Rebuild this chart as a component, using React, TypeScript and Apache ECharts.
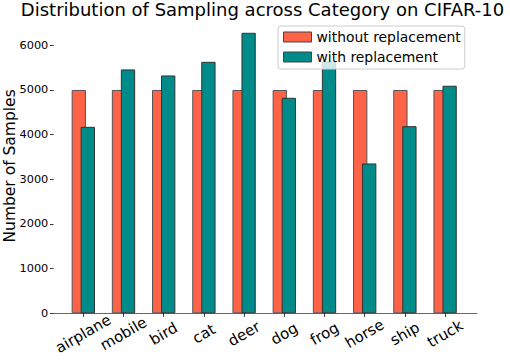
import React, { useEffect, useRef } from "react";
import * as echarts from "echarts";

const categories = ["airplane", "mobile", "bird", "cat", "deer", "dog", "frog", "horse", "ship", "truck"];
const withoutReplacement = [5000, 5000, 5000, 5000, 5000, 5000, 5000, 5000, 5000, 5000];
const withReplacement = [4175, 5460, 5325, 5630, 6280, 4825, 5640, 3355, 4190, 5095];
const yTicks = [0, 1000, 2000, 3000, 4000, 5000, 6000];

const FONT = "DejaVu Sans";

export default function App() {
  const ref = useRef<HTMLDivElement>(null);
  useEffect(() => {
    if (!ref.current) return;
    const chart = echarts.init(ref.current, null, { renderer: "svg" });

    chart.setOption({
      animation: false,
      title: {
        text: "Distribution of Sampling across Category on CIFAR-10",
        left: 262.5,
        textAlign: "center",
        top: 0,
        padding: 0,
        textStyle: { fontFamily: FONT, fontSize: 18, fontWeight: "normal", color: "#000" },
      },
      legend: {
        orient: "vertical",
        left: 278,
        top: 26,
        padding: [4, 4, 5, 5],
        itemWidth: 28,
        itemHeight: 10,
        itemGap: 6,
        itemTextGap: 10,
        icon: "rect",
        backgroundColor: "rgba(255,255,255,0.8)",
        borderColor: "#cccccc",
        borderWidth: 1,
        borderRadius: 3,
        textStyle: { fontFamily: FONT, fontSize: 13.9, color: "#000" },
        itemStyle: { borderColor: "#444", borderWidth: 1 },
        data: ["without replacement", "with replacement"],
      },
      grid: [
        { left: 63.2, right: 44.8, top: 18.5, bottom: 46.7, containLabel: false, outerBoundsMode: "none" },
        { left: 53.5, right: 33, top: 18.5, bottom: 46.7, containLabel: false, outerBoundsMode: "none" },
      ],
      xAxis: [
        {
          type: "category",
          gridIndex: 0,
          data: categories,
          axisLine: { show: false },
          axisTick: { show: true, alignWithLabel: true, length: 3.5, lineStyle: { color: "#333" } },
          axisLabel: {
            rotate: 30,
            align: "center",
            verticalAlign: "middle",
            margin: 20.5,
            interval: 0,
            hideOverlap: false,
            fontFamily: FONT,
            fontSize: 15,
            color: "#000",
          },
          splitLine: { show: false },
        },
        {
          type: "value",
          gridIndex: 1,
          min: 0,
          max: 1,
          axisLine: { show: true, lineStyle: { color: "#666", width: 1 } },
          axisTick: { show: false },
          axisLabel: { show: false },
          splitLine: { show: false },
        },
      ],
      yAxis: [
        {
          type: "value",
          gridIndex: 0,
          min: 0,
          max: 6600,
          offset: 9.7,
          name: "Number of Samples",
          nameLocation: "middle",
          nameGap: 36,
          nameMoveOverlap: false,
          nameTextStyle: { fontFamily: FONT, fontSize: 15.5, color: "#000" },
          axisLine: { show: false },
          axisTick: { show: true, length: 3.5, customValues: yTicks, lineStyle: { color: "#333" } },
          axisLabel: {
            customValues: yTicks,
            formatter: (v: number) => String(v),
            margin: 5.2,
            fontFamily: FONT,
            fontSize: 11.3,
            color: "#000",
          },
          splitLine: { show: false },
        },
        { type: "value", gridIndex: 1, show: false, min: 0, max: 1 },
      ],
      series: [
        {
          name: "without replacement",
          type: "bar",
          xAxisIndex: 0,
          yAxisIndex: 0,
          data: withoutReplacement,
          barWidth: 14.3,
          barGap: "-37%",
          itemStyle: { color: "#FF6347", borderColor: "#555", borderWidth: 1 },
        },
        {
          name: "with replacement",
          type: "bar",
          xAxisIndex: 0,
          yAxisIndex: 0,
          data: withReplacement,
          barWidth: 14.3,
          barGap: "-37%",
          itemStyle: { color: "#008B8B", borderColor: "#333", borderWidth: 1 },
        },
      ],
    });
    return () => chart.dispose();
  }, []);
  return <div ref={ref} style={{ position: "absolute", left: 0, top: 0, width: 510, height: 360 }} />;
}
